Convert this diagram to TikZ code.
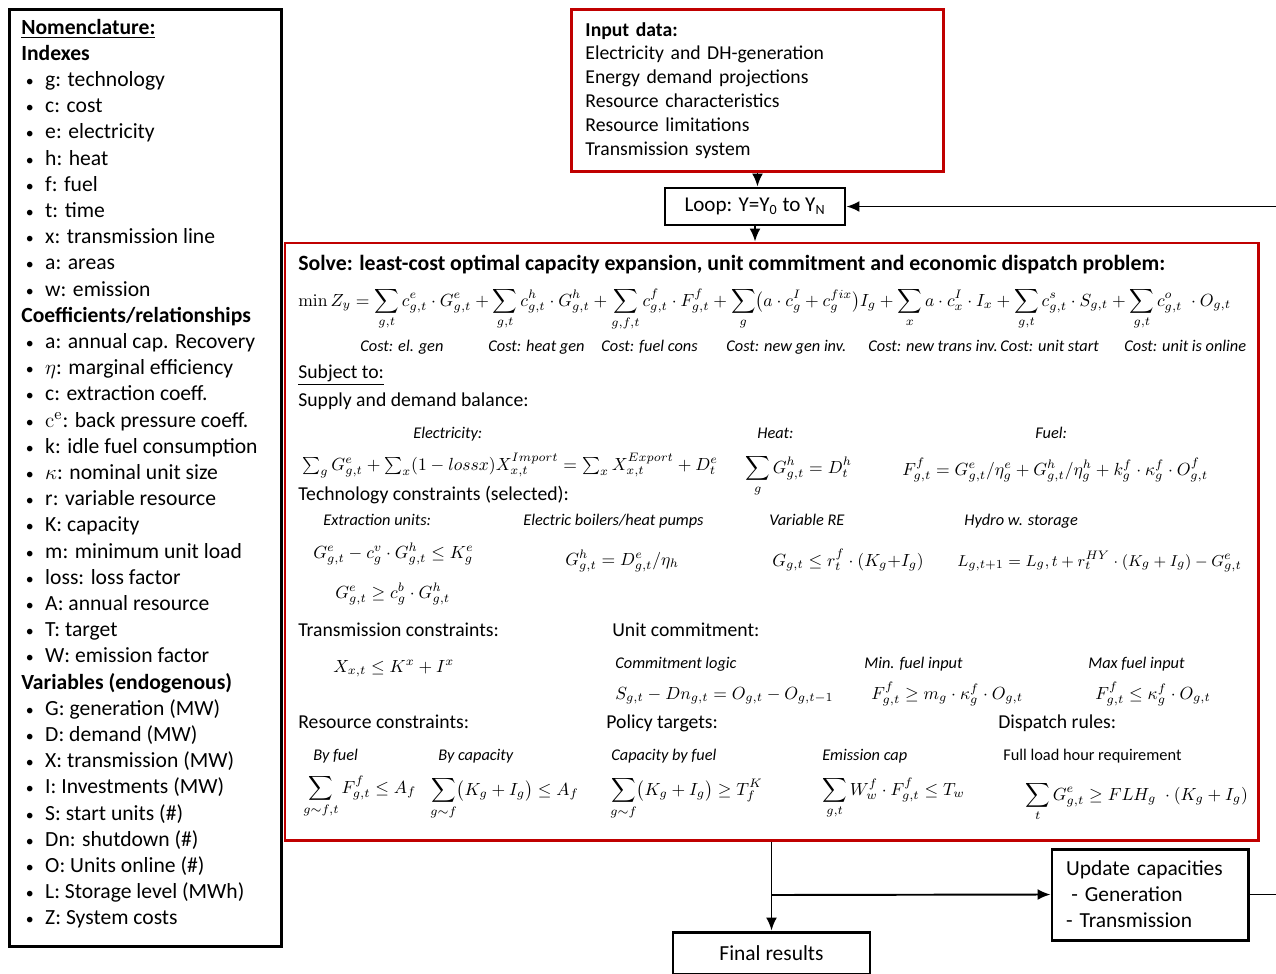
\documentclass[tikz,border=0pt]{standalone}
\usepackage[no-math]{fontspec}
\usepackage{amsmath,amssymb}
\setmainfont{Carlito}
\usetikzlibrary{arrows.meta,positioning}
\definecolor{boxred}{RGB}{192,0,0}
\newcommand{\px}{0.02cm}
\newcommand{\nbul}{\hspace*{2.6pt}\makebox[11pt][l]{\fontsize{9}{9}\selectfont\textbullet}}
\newcommand{\nomfont}{\fontsize{12.3}{14.8}\selectfont}

\begin{document}
\begin{tikzpicture}[x=0.02cm, y=-0.02cm, font=\fontsize{11.2}{13.6}\selectfont,
    blackbox/.style={draw=black, line width=1.7pt, inner sep=0pt},
    redbox/.style={draw=boxred, line width=1.7pt, inner sep=0pt},
    arr/.style={-{Latex[length=2.6mm,width=2.2mm]}, line width=1.1pt},
    hd/.style={anchor=base west, inner sep=0pt},
    lbl/.style={anchor=base west, inner sep=0pt, font=\fontsize{9.3}{11}\selectfont\itshape},
    eq/.style={anchor=base west, inner sep=0pt, font=\fontsize{9.7}{12}\selectfont}]
  \useasboundingbox (0,0) rectangle (1276,974);

  % nomenclature
  \node[blackbox, anchor=north west, minimum width=272*\px, minimum height=937*\px] (nom) at (8,8) {};
  \foreach \pre/\txt [count=\i from 0] in {
      {}/{\underline{\textbf{Nomenclature:}}}, {}/{\textbf{Indexes}},
      \nbul/{g: technology}, \nbul/{c: cost}, \nbul/{e: electricity}, \nbul/{h: heat},
      \nbul/{f: fuel}, \nbul/{t: time}, \nbul/{x: transmission line}, \nbul/{a: areas},
      \nbul/{w: emission},
      {}/{\textbf{Coefficients/relationships}},
      \nbul/{a: annual cap. Recovery}, \nbul/{$\eta$: marginal efficiency},
      \nbul/{c: extraction coeff.}, \nbul/{$\mathrm{c}^{\mathrm{e}}$: back pressure coeff.},
      \nbul/{k: idle fuel consumption}, \nbul/{$\kappa$: nominal unit size},
      \nbul/{r: variable resource}, \nbul/{K: capacity}, \nbul/{m: minimum unit load},
      \nbul/{loss: loss factor}, \nbul/{A: annual resource}, \nbul/{T: target},
      \nbul/{W: emission factor},
      {}/{\textbf{Variables (endogenous)}},
      \nbul/{G: generation (MW)}, \nbul/{D: demand (MW)}, \nbul/{X: transmission (MW)},
      \nbul/{I: Investments (MW)}, \nbul/{S: start units (\#)}, \nbul/{Dn: shutdown (\#)},
      \nbul/{O: Units online (\#)}, \nbul/{L: Storage level (MWh)}, \nbul/{Z: System costs}}
    \node[hd, font=\nomfont] (nom\i) at (21,{34+26.2*\i}) {\pre\txt};

  % flow boxes
  \node[redbox, anchor=north west, minimum width=372*\px, minimum height=162*\px,
        text width=344*\px, inner xsep=14*\px, align=left] (input) at (570,8)
    {\textbf{Input data:}\\ Electricity and DH-generation\\ Energy demand projections\\
     Resource characteristics\\ Resource limitations\\ Transmission system};
  \node[blackbox, minimum width=180*\px, minimum height=37*\px, font=\fontsize{12}{14}\selectfont]
    (loop) at (755,206.5) {Loop: Y=Y\textsubscript{0} to Y\textsubscript{N}};
  \node[redbox, minimum width=973*\px, minimum height=597*\px] (solve) at (771.5,541.5) {};
  \node[blackbox, minimum width=196*\px, minimum height=91*\px, text width=168*\px,
        inner xsep=14*\px, align=left, font=\fontsize{12.2}{14.8}\selectfont]
    (update) at (1150,894.5) {Update capacities\\ \hspace*{3pt}- Generation\\ - Transmission};
  \node[blackbox, minimum width=197*\px, minimum height=42*\px, font=\fontsize{12.2}{14.8}\selectfont]
    (final) at (771.5,953) {Final results};

  % objective
  \node[hd, font=\fontsize{12.4}{14}\selectfont\bfseries] (title) at (298,270)
    {Solve: least-cost optimal capacity expansion, unit commitment and economic dispatch problem:};
  \node[eq] (obj) at (298,306) {$\displaystyle \min Z_y = \sum_{g,t} c^e_{g,t}\cdot G^e_{g,t}
    + \sum_{g,t} c^h_{g,t}\cdot G^h_{g,t} + \sum_{g,f,t} c^f_{g,t}\cdot F^f_{g,t}
    + \sum_{g}\bigl(a\cdot c^I_g + c^{fix}_g\bigr)I_g + \sum_{x} a\cdot c^I_x\cdot I_x
    + \sum_{g,t} c^s_{g,t}\cdot S_{g,t} + \sum_{g,t} c^o_{g,t}\;\cdot O_{g,t}$};
  \node[lbl] (c1) at (360,351) {Cost: el. gen};
  \node[lbl] (c2) at (488,351) {Cost: heat gen};
  \node[lbl] (c3) at (601,351) {Cost: fuel cons};
  \node[lbl] (c4) at (726,351) {Cost: new gen inv.};
  \node[lbl] (c5) at (868,351) {Cost: new trans inv.};
  \node[lbl] (c6) at (1000,351) {Cost: unit start};
  \node[lbl] (c7) at (1124,351) {Cost: unit is online};

  % constraints
  \node[hd] (subj) at (298,378) {\underline{Subject to:}};
  \node[hd] (bal) at (298,406) {Supply and demand balance:};
  \node[lbl] (elh) at (413,438) {Electricity:};
  \node[eq] (eleq) at (302,470) {$\textstyle\sum_g G^e_{g,t} + \sum_x (1-loss x)X^{Import}_{x,t}
    = \sum_x X^{Export}_{x,t} + D^e_t$};
  \node[lbl] (heh) at (757,438) {Heat:};
  \node[eq] (heeq) at (745,473) {$\displaystyle\sum_g G^h_{g,t} = D^h_t$};
  \node[lbl] (fuh) at (1035,438) {Fuel:};
  \node[eq] (fueq) at (902,475) {$F^f_{g,t} = G^e_{g,t}/\eta^e_g + G^h_{g,t}/\eta^h_g
    + k^f_g\cdot\kappa^f_g\cdot O^f_{g,t}$};

  \node[hd] (tech) at (298,500) {Technology constraints (selected):};
  \node[lbl] (exh) at (323,525) {Extraction units:};
  \node[lbl] (boh) at (523,525) {Electric boilers/heat pumps};
  \node[lbl] (reh) at (769,525) {Variable RE};
  \node[lbl] (hyh) at (964,525) {Hydro w. storage};
  \node[eq] (exeq1) at (313,558) {$G^e_{g,t} - c^v_g\cdot G^h_{g,t} \le K^e_g$};
  \node[eq] (exeq2) at (335,598) {$G^e_{g,t} \ge c^b_g\cdot G^h_{g,t}$};
  \node[eq] (boeq) at (565,565) {$G^h_{g,t} = D^e_{g,t}/\eta_h$};
  \node[eq] (reeq) at (772,566) {$G_{g,t} \le r^f_t\cdot(K_g{+}I_g)$};
  \node[eq, font=\fontsize{9.3}{12}\selectfont] (hyeq) at (957,566)
    {$L_{g,t+1} = L_g,t + r^{HY}_t\cdot(K_g+I_g) - G^e_{g,t}$};

  \node[hd] (trans) at (298,636) {Transmission constraints:};
  \node[eq] (treq) at (333,672) {$X_{x,t} \le K^x + I^x$};
  \node[hd] (uc) at (612,636) {Unit commitment:};
  \node[lbl] (clh) at (615,668) {Commitment logic};
  \node[lbl] (mih) at (864,668) {Min. fuel input};
  \node[lbl] (mah) at (1088,668) {Max fuel input};
  \node[eq] (cleq) at (615,699) {$S_{g,t} - Dn_{g,t} = O_{g,t} - O_{g,t-1}$};
  \node[eq] (mieq) at (871,699) {$F^f_{g,t} \ge m_g\cdot\kappa^f_g\cdot O_{g,t}$};
  \node[eq] (maeq) at (1095,699) {$F^f_{g,t} \le \kappa^f_g\cdot O_{g,t}$};

  \node[hd] (res) at (298,728) {Resource constraints:};
  \node[hd] (pol) at (606,728) {Policy targets:};
  \node[hd] (dis) at (998,728) {Dispatch rules:};
  \node[lbl] (bfh) at (313,760) {By fuel};
  \node[lbl] (bch) at (438,760) {By capacity};
  \node[lbl] (cfh) at (611,760) {Capacity by fuel};
  \node[lbl] (emh) at (822,760) {Emission cap};
  \node[lbl, font=\fontsize{9.3}{11}\selectfont] (flh) at (1003,760) {Full load hour requirement};
  \node[eq] (bfeq) at (303,793) {$\displaystyle\sum_{g\sim f,t} F^f_{g,t} \le A_f$};
  \node[eq] (bceq) at (430,795) {$\displaystyle\sum_{g\sim f}\bigl(K_g+I_g\bigr) \le A_f$};
  \node[eq] (cfeq) at (610,795) {$\displaystyle\sum_{g\sim f}\bigl(K_g+I_g\bigr) \ge T^K_f$};
  \node[eq] (emeq) at (822,795) {$\displaystyle\sum_{g,t} W^f_w\cdot F^f_{g,t} \le T_w$};
  \node[eq] (fleq) at (1025,800) {$\displaystyle\sum_{t} G^e_{g,t} \ge FLH_g\;\cdot(K_g+I_g)$};

  % connectors
  \coordinate (split) at (771.5,895);
  \draw[arr] (input.south) -- (input.south |- loop.north);
  \draw[arr] (loop.south) -- (loop.south |- solve.north);
  \draw[arr] (solve.south -| final.north) -- (final.north);
  \draw[arr] (split) -- (update.west);
  \draw[arr] (update.east) -- ++(28,0) |- (loop.east);
\end{tikzpicture}
\end{document}
